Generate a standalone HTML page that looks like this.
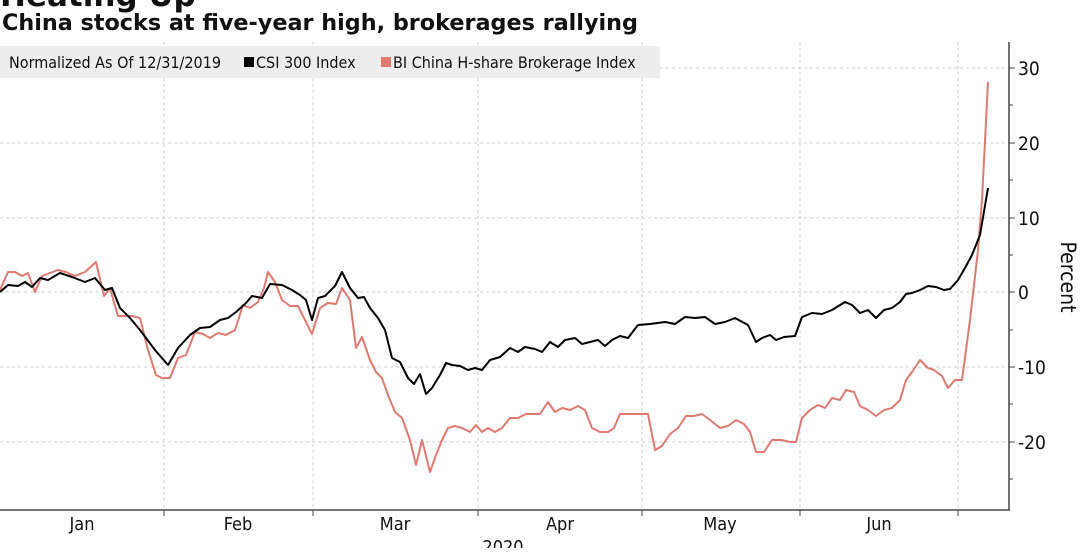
<!DOCTYPE html>
<html><head><meta charset="utf-8"><style>
body{margin:0;width:1080px;height:548px;overflow:hidden;background:#fff;font-family:"DejaVu Sans Condensed","DejaVu Sans","Liberation Sans",sans-serif}
</style></head><body>
<svg width="1080" height="548" viewBox="0 0 1080 548" xmlns="http://www.w3.org/2000/svg">
<text x="0" y="6" font-family="DejaVu Sans,sans-serif" font-weight="bold" font-size="31" fill="#111">Heating Up</text>
<text x="2" y="30" font-family="DejaVu Sans,sans-serif" font-weight="bold" font-size="22.3" fill="#111">China stocks at five-year high, brokerages rallying</text>
<g stroke="#ccc" stroke-dasharray="3,3" stroke-width="1">
<line x1="164" y1="42" x2="164" y2="510"/><line x1="313" y1="42" x2="313" y2="510"/><line x1="478" y1="42" x2="478" y2="510"/><line x1="642" y1="42" x2="642" y2="510"/><line x1="800" y1="42" x2="800" y2="510"/><line x1="958" y1="42" x2="958" y2="510"/>
<line x1="0" y1="68" x2="1009" y2="68"/><line x1="0" y1="143" x2="1009" y2="143"/><line x1="0" y1="218" x2="1009" y2="218"/><line x1="0" y1="292" x2="1009" y2="292"/><line x1="0" y1="367" x2="1009" y2="367"/><line x1="0" y1="442" x2="1009" y2="442"/>
</g>
<rect x="0" y="46" width="660" height="32" fill="#ededed"/>
<g font-family="DejaVu Sans Condensed,DejaVu Sans,sans-serif" font-size="16" fill="#111">
<text x="9" y="68">Normalized As Of 12/31/2019</text>
<rect x="244" y="57" width="10" height="10" fill="#000"/><text x="256" y="68">CSI 300 Index</text>
<rect x="381" y="57" width="10" height="10" fill="#e07a70"/><text x="393" y="68">BI China H-share Brokerage Index</text>
</g>
<line x1="0" y1="510" x2="1010" y2="510" stroke="#777" stroke-width="2"/>
<line x1="1009" y1="42" x2="1009" y2="510" stroke="#444" stroke-width="1.5"/>
<g stroke="#444"><line x1="1009" y1="68" x2="1015" y2="68"/><line x1="1009" y1="143" x2="1015" y2="143"/><line x1="1009" y1="218" x2="1015" y2="218"/><line x1="1009" y1="292" x2="1015" y2="292"/><line x1="1009" y1="367" x2="1015" y2="367"/><line x1="1009" y1="442" x2="1015" y2="442"/>
<line x1="1009" y1="105" x2="1013" y2="105"/><line x1="1009" y1="180" x2="1013" y2="180"/><line x1="1009" y1="255" x2="1013" y2="255"/><line x1="1009" y1="330" x2="1013" y2="330"/><line x1="1009" y1="404" x2="1013" y2="404"/><line x1="1009" y1="479" x2="1013" y2="479"/>
<line x1="164" y1="510" x2="164" y2="516"/><line x1="313" y1="510" x2="313" y2="516"/><line x1="478" y1="510" x2="478" y2="516"/><line x1="642" y1="510" x2="642" y2="516"/><line x1="800" y1="510" x2="800" y2="516"/><line x1="958" y1="510" x2="958" y2="516"/></g>
<g font-family="DejaVu Sans Condensed,DejaVu Sans,sans-serif" font-size="19" fill="#111">
<text x="1018" y="75">30</text><text x="1018" y="150">20</text><text x="1018" y="225">10</text><text x="1018" y="299">0</text><text x="1018" y="374">-10</text><text x="1018" y="449">-20</text>
</g>
<text transform="translate(1061,277) rotate(90)" text-anchor="middle" font-family="DejaVu Sans Condensed,DejaVu Sans,sans-serif" font-size="21" fill="#111">Percent</text>
<g font-family="DejaVu Sans Condensed,DejaVu Sans,sans-serif" font-size="18" fill="#111" text-anchor="middle">
<text x="82" y="530">Jan</text><text x="238" y="530">Feb</text><text x="395" y="530">Mar</text><text x="560" y="530">Apr</text><text x="720" y="530">May</text><text x="879" y="530">Jun</text><text x="503" y="553">2020</text>
</g>
<polyline fill="none" stroke="#e07a70" stroke-width="2" stroke-linejoin="round" points="0,290 8,272 15,272 22,276 28,273 35,292 42,276 50,273 58,270 66,272 75,276 85,272 96,262 104,296 110,288 118,316 125,316 132,316 140,318 148,350 156,375 162,378 170,378 178,358 186,355 195,332 203,334 210,338 218,333 226,335 235,330 243,305 250,308 258,302 264,288 268,272 275,282 282,300 290,306 298,306 305,320 312,334 320,308 328,303 336,304 342,288 350,300 356,348 362,337 370,360 376,372 382,378 388,395 395,412 402,418 410,440 416,465 422,440 430,472 436,455 442,440 448,428 455,426 462,428 470,432 476,425 482,432 488,428 495,432 502,428 510,418 518,418 526,414 534,414 540,414 548,402 555,412 562,408 570,410 578,406 585,410 592,428 600,432 608,432 614,428 620,414 628,414 640,414 648,414 655,450 662,446 670,434 678,428 686,416 694,416 702,414 710,420 720,428 728,426 736,420 744,424 750,432 756,452 764,452 772,440 782,440 790,442 796,442 802,418 810,410 818,405 825,408 832,398 840,400 846,390 854,392 860,406 868,410 876,416 884,410 892,408 900,400 906,380 912,372 920,360 928,368 934,370 942,376 948,388 955,380 962,380 970,320 978,250 982,200 988,82"/>
<polyline fill="none" stroke="#000" stroke-width="2" stroke-linejoin="round" points="0,292 8,285 18,286 25,282 32,287 40,278 48,280 60,273 72,277 85,282 95,278 105,290 112,288 120,308 130,318 140,330 155,350 168,365 178,348 190,335 200,328 210,327 220,320 228,318 236,312 246,303 252,296 262,298 270,284 282,285 292,290 300,295 306,300 312,320 318,298 325,296 335,286 342,272 350,288 358,298 364,297 370,308 378,318 385,330 392,358 400,362 408,378 414,384 420,374 426,394 432,388 440,375 446,363 452,365 460,366 468,370 475,368 482,370 490,360 500,357 510,348 518,352 525,347 535,349 542,352 550,342 558,347 565,340 575,338 582,344 590,342 598,340 605,346 612,340 620,336 628,338 638,325 650,324 665,322 675,324 685,317 695,318 705,317 715,324 725,322 735,318 748,325 756,342 762,338 770,335 776,340 784,337 795,336 802,317 812,313 822,314 832,310 845,302 852,305 860,313 868,310 876,318 884,310 892,308 900,302 906,294 912,293 920,290 928,286 936,287 944,290 950,289 958,280 965,268 972,255 980,235 988,188"/>
</svg>
</body></html>
